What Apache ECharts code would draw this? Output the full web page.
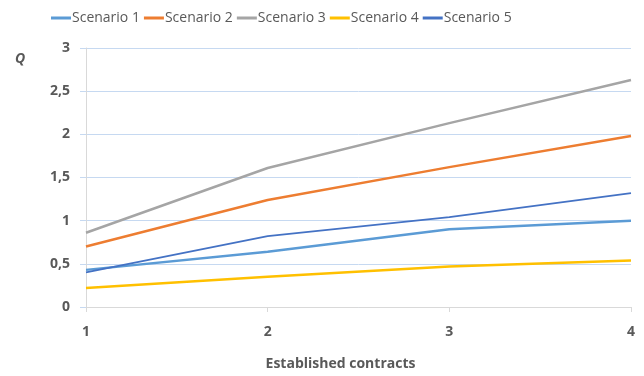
<!DOCTYPE html>
<html>
<head>
<meta charset="utf-8">
<script src="https://cdn.jsdelivr.net/npm/echarts@6/dist/echarts.min.js"></script>
<style>
  html, body { margin: 0; padding: 0; background: #fff; }
  #chart { width: 644px; height: 376px; }
</style>
</head>
<body>
<div id="chart"></div>
<script>
// Number of established contracts (x axis)
const contracts = [1, 2, 3, 4];

// Q for each scenario
const scenario1 = [0.43, 0.64, 0.90, 1.00];
const scenario2 = [0.70, 1.24, 1.62, 1.98];
const scenario3 = [0.86, 1.61, 2.13, 2.63];
const scenario4 = [0.22, 0.35, 0.47, 0.54];
const scenario5 = [0.40, 0.82, 1.04, 1.32];

const seriesNames = ['Scenario 1', 'Scenario 2', 'Scenario 3', 'Scenario 4', 'Scenario 5'];
const seriesValues = [scenario1, scenario2, scenario3, scenario4, scenario5];
const seriesColors = ['#5B9BD5', '#ED7D31', '#A5A5A5', '#FFC000', '#4472C4'];
const seriesWidths = [2.5, 2.5, 2.5, 2.5, 1.8];

const font = '"Open Sans", "Liberation Sans", sans-serif';
const textColor = '#595959';

const chart = echarts.init(document.getElementById('chart'));
chart.setOption({
  animation: false,
  textStyle: { fontFamily: font },
  legend: {
    top: 6,
    left: 46,
    itemWidth: 20,
    itemHeight: 3,
    itemGap: 4,
    icon: 'rect',
    textStyle: { fontFamily: font, fontSize: 14, color: textColor, padding: [0, 0, 0, -4] },
    data: seriesNames
  },
  grid: { left: 86, right: 13, top: 48, bottom: 69, containLabel: false, outerBoundsMode: 'none' },
  xAxis: {
    type: 'value',
    min: 1,
    max: 4,
    interval: 1,
    name: 'Established contracts',
    nameLocation: 'middle',
    nameGap: 50,
    nameTextStyle: { fontFamily: font, fontSize: 14, fontWeight: 'bold', color: textColor, padding: [0, 36, 0, 0] },
    axisLine: { show: true, onZero: false, lineStyle: { color: '#d9d9d9' } },
    axisTick: { show: true, length: 5, lineStyle: { color: '#d9d9d9' } },
    splitLine: { show: false },
    axisLabel: { fontFamily: font, fontSize: 14, fontWeight: 'bold', color: textColor, margin: 18 }
  },
  yAxis: {
    type: 'value',
    min: 0,
    max: 3,
    interval: 0.5,
    name: 'Q',
    nameLocation: 'end',
    nameGap: 0,
    nameTextStyle: { fontFamily: font, fontSize: 14, fontWeight: 'bold', fontStyle: 'italic', color: textColor, padding: [0, 0, -18, -132] },
    axisLine: { show: true, lineStyle: { color: '#d9d9d9' } },
    axisTick: { show: true, length: 6, lineStyle: { color: '#c6d9f1' } },
    splitLine: { show: true, lineStyle: { color: '#c6d9f1', width: 1 } },
    axisLabel: {
      fontFamily: font, fontSize: 14, fontWeight: 'bold', color: textColor, margin: 16,
      formatter: v => String(v).replace('.', ',')
    }
  },
  series: seriesNames.map((name, i) => ({
    name,
    type: 'line',
    data: contracts.map((c, j) => [c, seriesValues[i][j]]),
    symbol: 'none',
    color: seriesColors[i],
    lineStyle: { width: seriesWidths[i], color: seriesColors[i] },
    z: 2 + (i === 4 ? 1 : 0)
  }))
});
</script>
</body>
</html>
